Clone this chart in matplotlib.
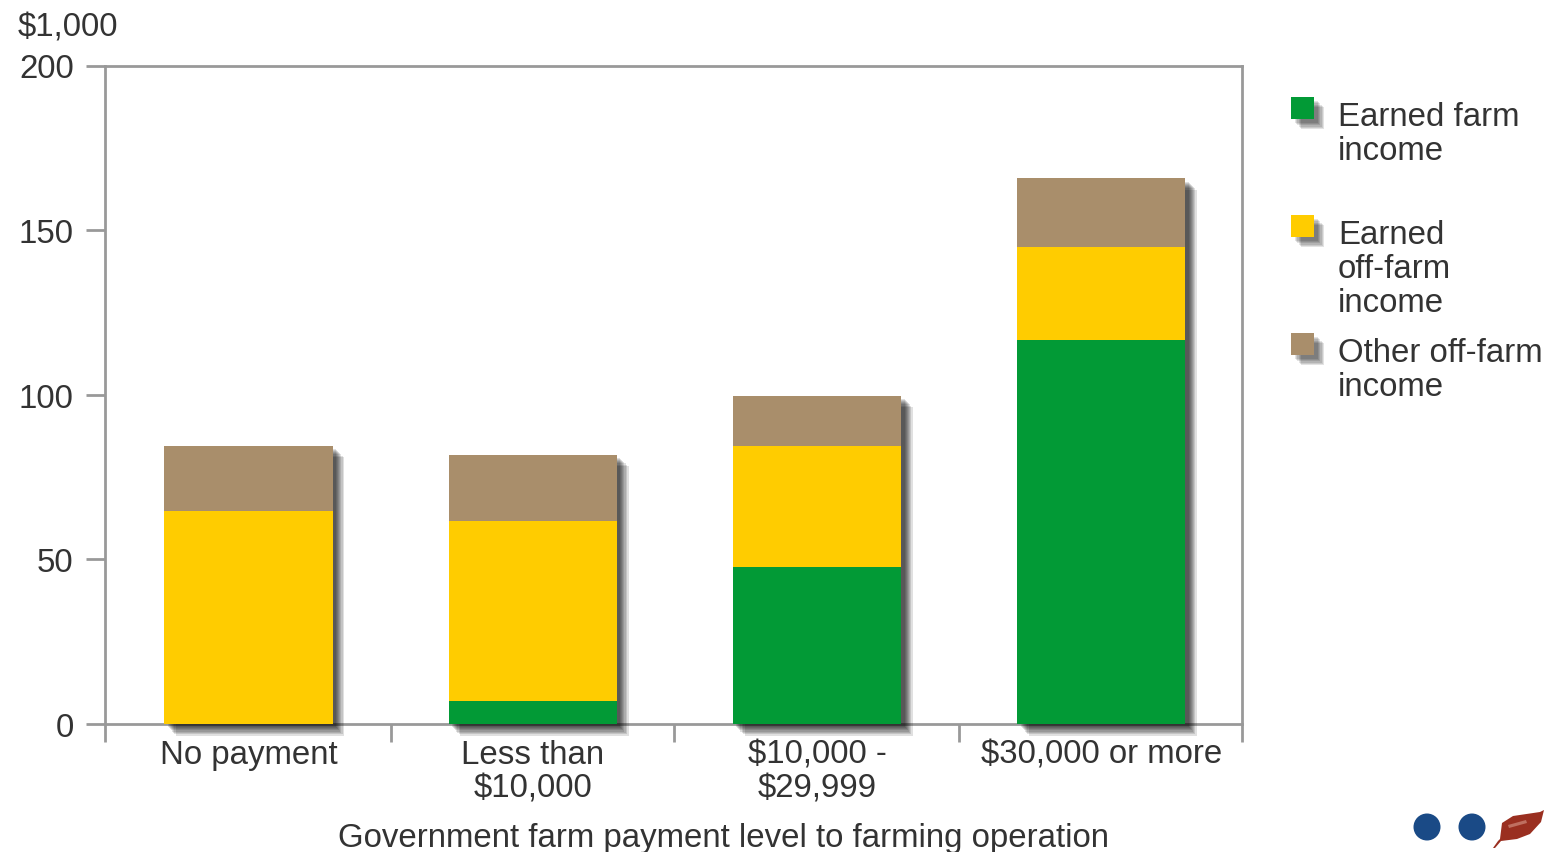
import matplotlib
matplotlib.use("Agg")
import matplotlib.pyplot as plt
import matplotlib.patheffects as pe
from matplotlib.patches import Rectangle, Circle, Polygon

plt.rcParams["font.family"] = ["Liberation Sans", "DejaVu Sans"]

# Average household income by payment level, $1,000
categories = ["No payment", "Less than\n$10,000", "$10,000 -\n$29,999", "$30,000 or more"]
earned_farm = [0, 7, 47.7, 116.7]
earned_off_farm = [64.7, 54.7, 36.8, 28.3]
other_off_farm = [19.8, 20.1, 15.2, 20.7]
y_ticks = [0, 50, 100, 150, 200]
legend_labels = ["Earned farm\nincome", "Earned\noff-farm\nincome", "Other off-farm\nincome"]

GREEN, YELLOW, BROWN = "#029a36", "#ffcc00", "#a98e6b"
GREY, TEXT = "#999999", "#333333"
FS = 23.8
W, H = 1551, 853


def soft_shadow(offsets, alpha):
    """Stacked translucent copies that build a blurred drop shadow."""
    layers = [pe.SimplePatchShadow(offset=(d, -d), shadow_rgbFace="k", alpha=alpha, rho=1)
              for d in offsets]
    return layers + [pe.Normal()]


fig = plt.figure(figsize=(W / 100, H / 100), dpi=100, facecolor="white")
ax = fig.add_axes([105 / W, 1 - 725 / H, (1242 - 105) / W, (725 - 66.5) / H])
ax.set_xlim(0, 4)
ax.set_ylim(0, 200)

positions = [0.505, 1.505, 2.505, 3.505]
bar_width = 0.592

# Whole-stack bar carries the shadow, the segments sit on top of it
totals = [a + b + c for a, b, c in zip(earned_farm, earned_off_farm, other_off_farm)]
backs = ax.bar(positions, totals, bar_width, color="white", zorder=3, clip_on=False)
for b in backs:
    b.set_path_effects(soft_shadow([2.5, 3.2, 3.9, 4.6, 5.4, 6.2, 7.2, 8.4], 0.12))

bottom2 = [a + b for a, b in zip(earned_farm, earned_off_farm)]
ax.bar(positions, earned_farm, bar_width, color=GREEN, zorder=4)
ax.bar(positions, earned_off_farm, bar_width, bottom=earned_farm, color=YELLOW, zorder=4)
ax.bar(positions, other_off_farm, bar_width, bottom=bottom2, color=BROWN, zorder=4)

for s in ax.spines.values():
    s.set_color(GREY)
    s.set_linewidth(2.0)

ax.set_yticks(y_ticks)
ax.tick_params(axis="y", length=13.5, width=2.0, color=GREY, labelsize=FS, labelcolor=TEXT, pad=9)
ax.set_xticks([0, 1.005, 2.0, 3.005, 4])
ax.set_xticklabels([])
ax.tick_params(axis="x", which="major", length=13, width=2.0, color=GREY)
ax.set_xticks(positions, minor=True)
ax.set_xticklabels(categories, minor=True, fontsize=FS, color=TEXT, linespacing=1.13)
ax.tick_params(axis="x", which="minor", length=0, pad=10.5)

# Overlay in pixel coordinates for the axis caption, unit label, key and logo
ov = fig.add_axes([0, 0, 1, 1], zorder=5)
ov.set_xlim(0, W)
ov.set_ylim(H, 0)
ov.axis("off")
ov.patch.set_alpha(0)

ov.text(18, 28, "$1,000", fontsize=FS, color=TEXT, ha="left", va="center")
ov.text(724, 839, "Government farm payment level to farming operation", fontsize=FS,
        color=TEXT, ha="center", va="center")

for y, color, label in zip([98, 216, 334], [GREEN, YELLOW, BROWN], legend_labels):
    r = Rectangle((1291, y), 23, 22, facecolor=color, edgecolor="none", zorder=3)
    r.set_path_effects(soft_shadow([3, 3.8, 4.6, 5.4, 6.4, 7.4], 0.11))
    ov.add_patch(r)
    ov.text(1338, y + 4, label, fontsize=FS, color=TEXT, ha="left", va="top", linespacing=1.13)

# Logo: two dots and a leaf
LOGO_BLUE, LEAF = "#1a4a86", "#9a2f20"
ov.add_patch(Circle((1427, 828), 13.5, facecolor=LOGO_BLUE, edgecolor="none"))
ov.add_patch(Circle((1472, 828), 13.5, facecolor=LOGO_BLUE, edgecolor="none"))
ov.add_patch(Polygon([(1493, 849), (1498, 842), (1500, 840), (1502, 824), (1513, 817),
                      (1540, 813), (1544, 811), (1541, 823), (1530, 835), (1517, 840),
                      (1501, 842), (1495, 849)], closed=True, facecolor=LEAF, edgecolor="none"))
ov.add_patch(Polygon([(1508, 826), (1526, 821), (1527, 824), (1509, 829)], closed=True,
                     facecolor="#bf6f60", edgecolor="none"))

fig.savefig("out.png", dpi=100)
